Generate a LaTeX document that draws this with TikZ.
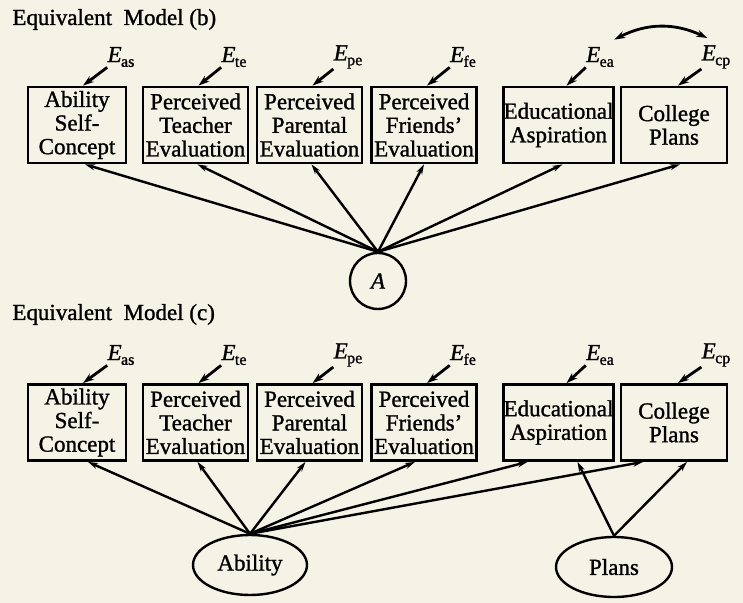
\documentclass[tikz,border=0pt]{standalone}
\usepackage{fontspec}
\setmainfont{Liberation Serif}[FakeBold=1.2]
\usetikzlibrary{arrows.meta,shapes.geometric}
\definecolor{paper}{RGB}{245,242,230}
\newcommand{\Eterm}[1]{\textit{E}\kern-0.3pt\raisebox{-0.45ex}{\fontsize{8}{8}\selectfont #1}}

\begin{document}
\begin{tikzpicture}[x=0.5pt,y=-0.5pt,
    box_node/.style={draw=black,line width=1.4pt,align=center,inner sep=0pt,minimum width=52.5pt,minimum height=38pt,font=\fontsize{11.5}{11.8}\selectfont},
    latent_circle/.style={circle,draw=black,line width=1.2pt,minimum size=28pt,inner sep=0pt,font=\fontsize{11.5}{12}\selectfont\itshape},
    latent_ellipse/.style={ellipse,draw=black,line width=1.2pt,minimum width=57pt,minimum height=30pt,inner sep=0pt,font=\fontsize{11.5}{12}\selectfont},
    error_label/.style={inner sep=0pt,font=\fontsize{11.5}{12}\selectfont},
    title_label/.style={anchor=base west,inner sep=0pt,font=\fontsize{11.5}{14}\selectfont},
    path_arrow/.style={line width=1.2pt,-{Stealth[length=5pt,width=3pt]}},
    error_arrow/.style={line width=1.4pt,-{Stealth[length=5.5pt,width=3.6pt]}},
    corr_arrow/.style={line width=1.4pt,{Stealth[length=5.5pt,width=3.6pt]}-{Stealth[length=5.5pt,width=3.6pt]}}]
  \fill[paper] (0,0) rectangle (743,603);
\node[title_label] (title_b) at (12,25) {Equivalent\enspace Model (b)};
\node[box_node,minimum width=49pt] (as_b) at (77,125) {Ability\\Self-\\Concept};
\node[box_node] (te_b) at (195.5,125) {Perceived\\Teacher\\Evaluation};
\node[box_node] (pe_b) at (309.5,125) {Perceived\\Parental\\Evaluation};
\node[box_node] (fe_b) at (424,125) {Perceived\\Friends'\\Evaluation};
\node[box_node] (ea_b) at (558.5,125) {Educational\\Aspiration};
\node[box_node,minimum width=53pt] (cp_b) at (674,125) {College\\Plans};
\node[error_label] (eas_b) at (121,57) {\Eterm{as}};
\node[error_label] (ete_b) at (234,57) {\Eterm{te}};
\node[error_label] (epe_b) at (348,57) {\Eterm{pe}};
\node[error_label] (efe_b) at (463,57) {\Eterm{fe}};
\node[error_label] (eea_b) at (600,57) {\Eterm{ea}};
\node[error_label] (ecp_b) at (716,57) {\Eterm{cp}};
\node[latent_circle] (a_b) at (378,281) {A};
\draw[error_arrow] (eas_b.south west) -- ([xshift=3pt]as_b.north);
\draw[error_arrow] (ete_b.south west) -- ([xshift=1.5pt]te_b.north);
\draw[error_arrow] (epe_b.south west) -- ([xshift=1.5pt]pe_b.north);
\draw[error_arrow] (efe_b.south west) -- ([xshift=1.5pt]fe_b.north);
\draw[error_arrow] (eea_b.south west) -- ([xshift=4pt]ea_b.north);
\draw[error_arrow] (ecp_b.south west) -- ([xshift=2pt]cp_b.north);
\draw[corr_arrow] ([yshift=3.5pt]eea_b.north east) to[bend left=26] ([xshift=3pt,yshift=3.5pt]ecp_b.north west);
\draw[path_arrow] (a_b.north) -- ([xshift=4pt]as_b.south);
\draw[path_arrow] (a_b.north) -- ([xshift=1pt]te_b.south);
\draw[path_arrow] (a_b.north) -- ([xshift=1pt]pe_b.south);
\draw[path_arrow] (a_b.north) -- (fe_b.south);
\draw[path_arrow] (a_b.north) -- ([xshift=2pt]ea_b.south);
\draw[path_arrow] (a_b.north) -- ([xshift=3pt]cp_b.south);
\node[title_label] (title_c) at (12,320) {Equivalent\enspace Model (c)};
\node[box_node,minimum width=49pt] (as_c) at (77,422.5) {Ability\\Self-\\Concept};
\node[box_node] (te_c) at (195.5,422.5) {Perceived\\Teacher\\Evaluation};
\node[box_node] (pe_c) at (309.5,422.5) {Perceived\\Parental\\Evaluation};
\node[box_node] (fe_c) at (424,422.5) {Perceived\\Friends'\\Evaluation};
\node[box_node] (ea_c) at (558.5,422.5) {Educational\\Aspiration};
\node[box_node,minimum width=53pt] (cp_c) at (674,422.5) {College\\Plans};
\node[error_label] (eas_c) at (121,355) {\Eterm{as}};
\node[error_label] (ete_c) at (234,355) {\Eterm{te}};
\node[error_label] (epe_c) at (348,355) {\Eterm{pe}};
\node[error_label] (efe_c) at (463,355) {\Eterm{fe}};
\node[error_label] (eea_c) at (600,355) {\Eterm{ea}};
\node[error_label] (ecp_c) at (716,355) {\Eterm{cp}};
\node[latent_ellipse] (ability) at (250,565) {Ability};
\node[latent_ellipse,minimum width=58pt] (plans) at (614,567) {Plans};
\draw[error_arrow] (eas_c.south west) -- ([xshift=3pt]as_c.north);
\draw[error_arrow] (ete_c.south west) -- ([xshift=1.5pt]te_c.north);
\draw[error_arrow] (epe_c.south west) -- ([xshift=1.5pt]pe_c.north);
\draw[error_arrow] (efe_c.south west) -- ([xshift=1.5pt]fe_c.north);
\draw[error_arrow] (eea_c.south west) -- ([xshift=4pt]ea_c.north);
\draw[error_arrow] (ecp_c.south west) -- ([xshift=2pt]cp_c.north);
\draw[path_arrow] (ability.north) -- ([xshift=5.5pt]as_c.south);
\draw[path_arrow] (ability.north) -- ([xshift=1pt]te_c.south);
\draw[path_arrow] (ability.north) -- ([xshift=-2pt]pe_c.south);
\draw[path_arrow] (ability.north) -- ([xshift=-4.5pt]fe_c.south);
\draw[path_arrow] (ability.north) -- ([xshift=-15.5pt]ea_c.south);
\draw[path_arrow] (ability.north) -- ([xshift=-15.5pt]cp_c.south);
\draw[path_arrow] (plans.north) -- ([xshift=9.5pt]ea_c.south);
\draw[path_arrow] (plans.north) -- ([xshift=6.5pt]cp_c.south);
\end{tikzpicture}
\end{document}
